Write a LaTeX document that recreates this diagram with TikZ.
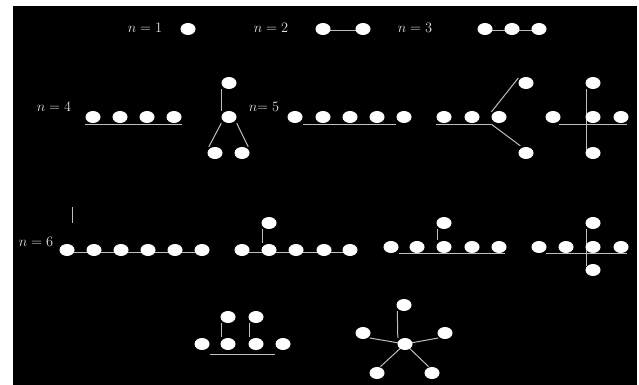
\documentclass[tikz,border=0pt]{standalone}
\usetikzlibrary{shapes.geometric}
\pgfdeclarelayer{bg}
\pgfsetlayers{bg,main}
\definecolor{txtc}{HTML}{E4E4E4}
\definecolor{edgec}{HTML}{BEBEBE}
\begin{document}
\begin{tikzpicture}[x=1pt,y=-1pt,
  v/.style={ellipse, fill=white, draw=none, minimum width=15pt, minimum height=12pt, inner sep=0pt},
  lab/.style={text=txtc, font=\fontsize{15.5}{17}\selectfont, inner sep=0pt},
  ed/.style={draw=edgec, line width=1pt}]
\useasboundingbox (0,0) rectangle (639,385);
\begin{pgfonlayer}{bg}
\fill[white] (0,0) rectangle (639,385);
\fill[black] (13,6) rectangle (637,385);
\end{pgfonlayer}

% labels
\node[lab] (l1) at (145,28) {$n = 1$};
\node[lab] (l2) at (271,28) {$n = 2$};
\node[lab] (l3) at (415,28) {$n = 3$};
\node[lab] (l4) at (54,107) {$n = 4$};
\node[lab] (l5) at (264,107) {$n{=}\;5$};
\node[lab] (l6) at (36,242) {$n = 6$};

% row 1
\node[v] (a1) at (188,29) {};
\node[v] (b1) at (323,29) {};
\node[v] (b2) at (363,29) {};
\node[v] (c1) at (485,29) {};
\node[v] (c2) at (512,29) {};
\node[v] (c3) at (539,29) {};

% row 2: n=4
\node[v] (d1) at (93,117) {};
\node[v] (d2) at (120,117) {};
\node[v] (d3) at (147,117) {};
\node[v] (d4) at (174,117) {};
\node[v] (t1) at (229,83) {};
\node[v] (t2) at (229,117) {};
\node[v] (t3) at (215,153) {};
\node[v] (t4) at (242,153) {};
% n=5
\node[v] (p1) at (295,117) {};
\node[v] (p2) at (323,117) {};
\node[v] (p3) at (350,117) {};
\node[v] (p4) at (377,117) {};
\node[v] (p5) at (404,117) {};
\node[v] (q1) at (444,117) {};
\node[v] (q2) at (472,117) {};
\node[v] (q3) at (499,117) {};
\node[v] (q4) at (526,83) {};
\node[v] (q5) at (526,153) {};
\node[v] (r1) at (553,117) {};
\node[v] (r2) at (593,117) {};
\node[v] (r3) at (621,117) {};
\node[v] (r4) at (593,83) {};
\node[v] (r5) at (593,153) {};

% row 3: n=6
\node[v] (s1) at (67,250) {};
\node[v] (s2) at (94,250) {};
\node[v] (s3) at (121,250) {};
\node[v] (s4) at (148,250) {};
\node[v] (s5) at (175,250) {};
\node[v] (s6) at (202,250) {};
\coordinate (k1) at (72,207);
\coordinate (k2) at (72,223);
\node[v] (u1) at (242,250) {};
\node[v] (u2) at (269,250) {};
\node[v] (u3) at (296,250) {};
\node[v] (u4) at (324,250) {};
\node[v] (u5) at (350,250) {};
\node[v] (u6) at (269,223) {};
\node[v] (v1) at (391,247) {};
\node[v] (v2) at (417,247) {};
\node[v] (v3) at (444,247) {};
\node[v] (v4) at (472,247) {};
\node[v] (v5) at (499,247) {};
\node[v] (v6) at (444,223) {};
\node[v] (w1) at (539,247) {};
\node[v] (w2) at (566,247) {};
\node[v] (w3) at (593,247) {};
\node[v] (w4) at (621,247) {};
\node[v] (w5) at (593,223) {};
\node[v] (w6) at (593,270) {};

% row 4
\node[v] (x1) at (202,344) {};
\node[v] (x2) at (228,344) {};
\node[v] (x3) at (256,344) {};
\node[v] (x4) at (283,344) {};
\node[v] (x5) at (228,317) {};
\node[v] (x6) at (256,317) {};
\node[v] (z0) at (405,344) {};
\node[v] (z1) at (404,305) {};
\node[v] (z2) at (363,333) {};
\node[v] (z3) at (445,333) {};
\node[v] (z4) at (377,373) {};
\node[v] (z5) at (432,373) {};

\begin{pgfonlayer}{bg}
% row 1
\draw[ed] ([yshift=-2pt]b1.center) -- ([yshift=-2pt]b2.center);
\draw[ed] ([yshift=-2pt]c1.center) -- ([yshift=-2pt]c3.center);
% n=4
\draw[ed] ([yshift=-1pt]d1.west |- d1.south) -- ([yshift=-1pt]d4.east |- d4.south);
\draw[ed] (t1.west |- t1.south) -- (t2.west |- t2.north);
\draw[ed] (t2.west |- t2.south) -- ([xshift=1.5pt]t3.west |- t3.north);
\draw[ed] (t2.east |- t2.south) -- ([xshift=-1.5pt]t4.east |- t4.north);
% n=5
\draw[ed] ([yshift=-1pt]p1.east |- p1.south) -- ([yshift=-1pt]p5.west |- p5.south);
\draw[ed] ([yshift=-1pt]q1.west |- q1.south) -- ([yshift=-1pt]q3.west |- q3.south);
\draw[ed] ([yshift=5pt]q3.west) -- ([yshift=5pt]q4.west);
\draw[ed] ([yshift=-1pt]q3.west |- q3.south) -- ([xshift=2pt,yshift=1pt]q5.west |- q5.north);
\draw[ed] ([xshift=-1.5pt,yshift=-1pt]r1.east |- r1.south) -- ([xshift=-1.5pt,yshift=-1pt]r3.east |- r3.south);
\draw[ed] ([xshift=1.5pt]r4.west |- r4.south) -- ([xshift=1.5pt,yshift=-3pt]r5.west |- r5.north);
% n=6
\draw[ed] ([yshift=-2pt]s1.center) -- ([yshift=-2pt]s6.center);
\draw[ed] (k1) -- (k2);
\draw[ed] ([yshift=-2pt]u1.center) -- ([yshift=-2pt]u5.center);
\draw[ed] ([xshift=1pt]u6.west |- u6.south) -- ([xshift=1pt,yshift=1pt]u2.west |- u2.north);
\draw[ed] ([yshift=-0.5pt]v1.east |- v1.south) -- ([xshift=-2pt,yshift=-0.5pt]v5.east |- v5.south);
\draw[ed] ([xshift=1pt]v6.west |- v6.south) -- ([xshift=1pt,yshift=1pt]v3.west |- v3.north);
\draw[ed] ([xshift=-0.5pt,yshift=-0.5pt]w1.east |- w1.south) -- ([xshift=-1.5pt,yshift=-0.5pt]w4.east |- w4.south);
\draw[ed] ([xshift=1.5pt]w5.west |- w5.south) -- ([xshift=1.5pt,yshift=-2pt]w6.west |- w6.north);
% row 4
\draw[ed] ([xshift=1pt]x5.west |- x5.south) -- ([xshift=1pt,yshift=1pt]x2.west |- x2.north);
\draw[ed] ([xshift=1pt]x6.west |- x6.south) -- ([xshift=1pt,yshift=1pt]x3.west |- x3.north);
\draw[ed] ([yshift=-4pt]x1.east |- x1.south) -- ([yshift=-4pt]x4.west |- x4.south);
\draw[ed] ([xshift=1pt]z1.west |- z1.south) -- ([xshift=0.5pt]z0.west |- z0.north);
\draw[ed] ([xshift=-1pt,yshift=-5pt]z2.east) -- (z0.center);
\draw[ed] (z0.center) -- ([xshift=1pt,yshift=-5pt]z3.west);
\draw[ed] (z0.center) -- ([xshift=-2pt,yshift=2pt]z4.north east);
\draw[ed] (z0.center) -- ([xshift=2pt,yshift=2pt]z5.north west);
\end{pgfonlayer}
\end{tikzpicture}
\end{document}
